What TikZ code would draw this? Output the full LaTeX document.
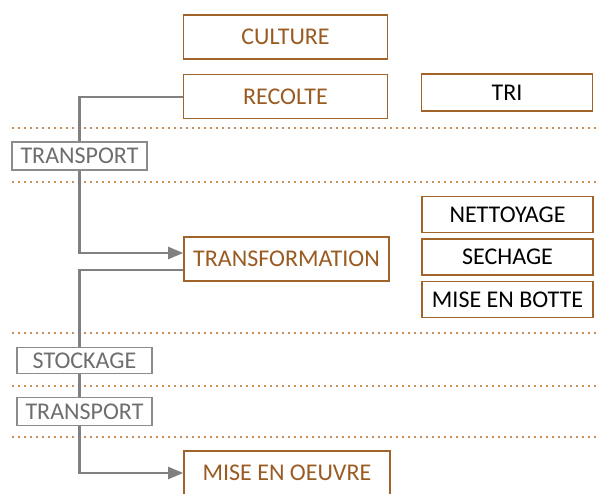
\documentclass[tikz,border=0pt]{standalone}
\usepackage{fontspec}
\setmainfont{Carlito}
\usetikzlibrary{positioning,arrows.meta,backgrounds}
\definecolor{brun}{HTML}{A0642A}
\definecolor{bruntxt}{HTML}{9A5B22}
\definecolor{gristrait}{HTML}{808080}
\definecolor{grisbox}{HTML}{8C8C8C}
\definecolor{gristxt}{HTML}{6E6E6E}
\definecolor{pointille}{HTML}{C8905A}

\begin{document}
\begin{tikzpicture}[
    x=1pt, y=-1pt,
    every node/.style={font=\fontsize{24}{27}\selectfont, inner sep=0pt},
    etape/.style={draw=brun, line width=1.6pt, fill=white, text=bruntxt, minimum width=204pt, minimum height=44pt},
    detail/.style={draw=brun, line width=1.4pt, fill=white, text=black, minimum width=171pt, minimum height=36pt},
    liaison/.style={draw=grisbox, line width=1.3pt, fill=white, text=gristxt, minimum width=135pt, minimum height=27pt},
    arr/.style={-{Triangle[length=15pt,width=12pt]}, draw=gristrait, line width=2.2pt},
    sep/.style={draw=pointille, line width=1.5pt, dash pattern=on 1.5pt off 4.5pt}
  ]
    \useasboundingbox (0,0) rectangle (600,493);

    \node[etape] (culture) at (285.5,37) {CULTURE};
    \node[etape, below=14pt of culture] (recolte) {RECOLTE};
    \node[detail, minimum height=37pt] (tri) at (507,92.5) {TRI};

    \node[liaison, minimum height=28pt] (transport1) at (79.5,156) {TRANSPORT};

    \node[detail] (nettoyage) at (507.5,214.5) {NETTOYAGE};
    \node[detail, below=5pt of nettoyage] (sechage) {SECHAGE};
    \node[detail, below=5pt of sechage] (botte) {MISE EN BOTTE};

    \node[etape, minimum width=205pt] (transformation) at (286.5,259) {TRANSFORMATION};

    \node[liaison, minimum height=26pt] (stockage) at (84.5,360.5) {STOCKAGE};
    \node[liaison, minimum height=28pt] (transport2) at (84.5,411.5) {TRANSPORT};

    \node[etape, minimum width=206pt] (oeuvre) at (287,473) {MISE EN OEUVRE};

    \begin{scope}[on background layer]
      % dotted separators
      \foreach \yy in {128,182,333,386,437}
        \draw[sep] (12,\yy) -- (600,\yy);

      \draw[arr] (recolte.west) -| (transport1) |- ([yshift=6pt]transformation.west);
      \draw[arr] ([yshift=-11pt]transformation.west) -| (stockage.north -| transport1.south) |- (oeuvre.west);
    \end{scope}
  \end{tikzpicture}
\end{document}
